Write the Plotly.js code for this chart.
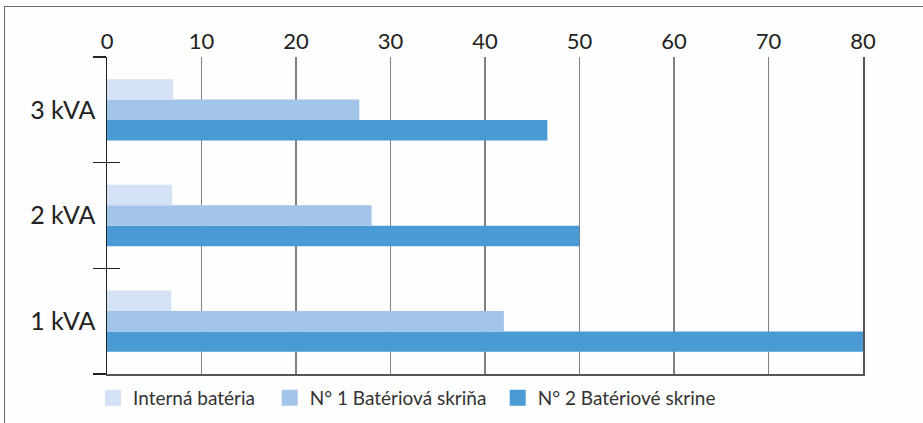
<!DOCTYPE html>
<html>
<head>
<meta charset="utf-8">
<script src="https://cdn.plot.ly/plotly-3.0.1.min.js"></script>
<style>
  html, body { margin: 0; padding: 0; background: #fefefe; }
  #chart { width: 923px; height: 423px; position: relative; }
  #frame { position: absolute; left: 4px; top: 6px; width: 1000px; height: 1000px;
           border-top: 1.5px solid #6a6a6a; border-left: 1.5px solid #6a6a6a; pointer-events: none; }
</style>
</head>
<body>
<div id="chart"></div>
<div id="frame"></div>
<script>
const categories = ['1 kVA', '2 kVA', '3 kVA'];
const seriesNames = ['Interná batéria', 'N° 1 Batériová skriňa', 'N° 2 Batériové skrine'];
const internaBateria = [6.8, 6.9, 7.0];
const n1BateriovaSkrina = [42.0, 28.0, 26.7];
const n2BateriovaSkrine = [80.0, 50.0, 46.6];
const xTicks = [0, 10, 20, 30, 40, 50, 60, 70, 80];
const colors = ['#d3e2f4', '#a3c4e9', '#4a9ad4'];

const FONT = 'Lato, "Noto Sans", sans-serif';

const traces = [
  { type: 'bar', orientation: 'h', name: seriesNames[2], y: categories, x: n2BateriovaSkrine,
    marker: { color: colors[2] }, hoverinfo: 'x', showlegend: false },
  { type: 'bar', orientation: 'h', name: seriesNames[1], y: categories, x: n1BateriovaSkrina,
    marker: { color: colors[1] }, hoverinfo: 'x', showlegend: false },
  { type: 'bar', orientation: 'h', name: seriesNames[0], y: categories, x: internaBateria,
    marker: { color: colors[0] }, hoverinfo: 'x', showlegend: false },
  // legend entries (one legend per entry so each can be placed like the reference)
  { type: 'scatter', mode: 'markers', name: seriesNames[0], x: [null], y: [null], legend: 'legend',
    marker: { symbol: 'square', size: 19, color: colors[0] }, hoverinfo: 'skip' },
  { type: 'scatter', mode: 'markers', name: seriesNames[1], x: [null], y: [null], legend: 'legend2',
    marker: { symbol: 'square', size: 19, color: colors[1] }, hoverinfo: 'skip' },
  { type: 'scatter', mode: 'markers', name: seriesNames[2], x: [null], y: [null], legend: 'legend3',
    marker: { symbol: 'square', size: 19, color: colors[2] }, hoverinfo: 'skip' },
  // helper traces so the overlay axes (inner ticks, bottom line, right edge) are drawn
  { type: 'scatter', mode: 'markers', x: [0], y: [categories[0]], xaxis: 'x2', yaxis: 'y2',
    marker: { opacity: 0 }, showlegend: false, hoverinfo: 'skip' },
  { type: 'scatter', mode: 'markers', x: [0], y: [categories[0]], xaxis: 'x2', yaxis: 'y3',
    marker: { opacity: 0 }, showlegend: false, hoverinfo: 'skip' }
];

const legendBase = {
  orientation: 'h', yanchor: 'middle', xanchor: 'left', y: -0.0757,
  font: { size: 19, color: '#333', family: FONT }, itemsizing: 'trace',
  bgcolor: 'rgba(0,0,0,0)', borderwidth: 0
};

const layout = {
  width: 923, height: 423,
  paper_bgcolor: 'rgba(0,0,0,0)', plot_bgcolor: 'rgba(0,0,0,0)',
  margin: { l: 106.5, r: 60, t: 57, b: 49, autoexpand: false },
  barmode: 'group', bargap: 0.42, bargroupgap: 0,
  font: { family: FONT, color: '#222' },
  showlegend: true,
  legend: Object.assign({}, legendBase, { x: -0.0185 }),
  legend2: Object.assign({}, legendBase, { x: 0.2152 }),
  legend3: Object.assign({}, legendBase, { x: 0.5168 }),
  xaxis: {
    side: 'top', range: [0, 80], tickvals: xTicks, ticktext: xTicks.map(String),
    showgrid: true, gridcolor: '#808080', gridwidth: 1.5, zeroline: false,
    showline: false, ticks: '', tickfont: { size: 22, color: '#222', family: FONT },
    ticklabelstandoff: 3, fixedrange: true
  },
  xaxis2: {
    overlaying: 'x', anchor: 'y2', side: 'bottom', range: [0, 80], showgrid: false,
    zeroline: false, showline: true, linecolor: '#555', linewidth: 2,
    showticklabels: false, ticks: ''
  },
  yaxis: {
    type: 'category', categoryarray: categories, categoryorder: 'array', range: [-0.5, 2.5],
    showline: true, linecolor: '#222', linewidth: 1.5, ticks: 'outside', tickson: 'boundaries',
    ticklen: 13, tickwidth: 1.5, tickcolor: '#222', showgrid: false, zeroline: false,
    tickfont: { size: 25, color: '#222', family: FONT }, ticklabelstandoff: 5, fixedrange: true
  },
  yaxis2: {
    type: 'category', categoryarray: categories, categoryorder: 'array', range: [-0.5, 2.5],
    overlaying: 'y', anchor: 'x2', side: 'left', showline: false, ticks: 'inside',
    tickson: 'boundaries', ticklen: 13, tickwidth: 1.5, tickcolor: '#222',
    showticklabels: false, showgrid: false, zeroline: false
  },
  yaxis3: {
    type: 'category', categoryarray: categories, categoryorder: 'array', range: [-0.5, 2.5],
    overlaying: 'y', anchor: 'x2', side: 'right', showline: true, linecolor: '#555',
    linewidth: 2, ticks: '', showticklabels: false, showgrid: false, zeroline: false
  }
};

Plotly.newPlot('chart', traces, layout, { displayModeBar: false, staticPlot: true });
</script>
</body>
</html>
